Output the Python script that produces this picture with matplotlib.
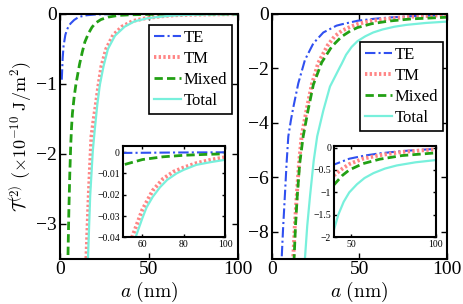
import matplotlib
matplotlib.use('Agg')
import matplotlib.pyplot as plt

plt.rcParams['font.family'] = ['Liberation Serif', 'DejaVu Serif']
plt.rcParams['mathtext.fontset'] = 'cm'
plt.rcParams['axes.unicode_minus'] = True

# ---- left panel ----
te_L_a = [1, 1.5, 2, 3, 4, 5, 6, 8, 10, 12, 15, 20, 30, 50, 75, 100]
te_L = [-0.94, -0.63, -0.46, -0.3, -0.22, -0.17, -0.135, -0.085, -0.052, -0.034,
        -0.018, -0.007, -0.002, -0.0004, -0.0002, -0.0001]

tm_L_a = [14, 14.9, 16.2, 17.7, 19, 20, 21.5, 23.3, 26, 30, 35, 41, 48, 55, 60,
          65, 70, 75, 80, 86, 93, 100]
tm_L = [-4.3, -3.47, -2.59, -1.75, -1.5, -1.33, -1.05, -0.75, -0.5, -0.3, -0.18,
        -0.1, -0.062, -0.04, -0.027, -0.018, -0.0125, -0.0092, -0.0072, -0.0052,
        -0.0036, -0.0024]

mx_L_a = [4, 4.5, 5, 5.5, 6, 6.5, 7, 8, 9, 10, 11, 12.5, 14, 16, 18, 20, 23, 27,
          33, 40, 50, 60, 70, 80, 90, 100]
mx_L = [-4.2, -3.45, -2.8, -2.3, -1.9, -1.62, -1.42, -1.18, -1.0, -0.86, -0.72,
        -0.55, -0.4, -0.28, -0.19, -0.13, -0.08, -0.045, -0.02, -0.011, -0.0062,
        -0.0035, -0.0022, -0.0015, -0.0011, -0.0008]

tot_L_a = [15, 15.8, 17, 18.5, 19.6, 21, 22.4, 24.5, 27, 31, 36.5, 42, 49, 53,
           56.5, 60, 62, 65, 68.5, 72, 76.5, 80, 86, 93, 100]
tot_L = [-4.3, -3.47, -2.6, -1.95, -1.65, -1.3, -1.02, -0.75, -0.5, -0.31, -0.18,
         -0.105, -0.063, -0.049, -0.0406, -0.031, -0.026, -0.021, -0.0165, -0.013,
         -0.010, -0.0083, -0.006, -0.0047, -0.0036]

# ---- right panel ----
te_R_a = [5.3, 5.7, 6.5, 7.6, 8.5, 9.5, 11, 12.3, 15.2, 19, 23.8, 29.5, 37, 40,
          49, 58, 67, 80, 100]
te_R = [-9.6, -9.0, -7.9, -6.6, -5.5, -4.5, -3.9, -3.45, -2.55, -1.69, -1.08,
        -0.68, -0.43, -0.38, -0.25, -0.18, -0.13, -0.08, -0.03]

tm_R_a = [12, 12.3, 13.2, 14.3, 15.6, 17.1, 20, 22.9, 26.6, 32, 36, 40, 45, 49,
          57, 67, 80, 100]
tm_R = [-9.6, -9.0, -7.8, -6.7, -5.5, -4.5, -3.5, -2.6, -1.8, -1.15, -0.82,
        -0.62, -0.47, -0.37, -0.25, -0.17, -0.1, -0.04]

mx_R_a = [12.5, 12.8, 13.6, 14.6, 16, 18, 20.9, 23.8, 28.6, 34.3, 40, 45, 49,
          57, 67, 80, 100]
mx_R = [-9.6, -9.0, -7.8, -6.7, -5.5, -4.5, -3.5, -2.6, -1.78, -1.2, -0.83,
        -0.62, -0.5, -0.36, -0.26, -0.18, -0.12]

tot_R_a = [18.5, 19, 20.3, 21.9, 24, 26, 29.5, 33.3, 39, 40, 42.5, 45.7, 49,
           53.5, 58, 63.3, 70, 77, 88, 100]
tot_R = [-9.6, -9.0, -7.8, -6.7, -5.4, -4.5, -3.55, -2.67, -1.95, -1.83, -1.5,
         -1.21, -1.0, -0.82, -0.68, -0.57, -0.47, -0.40, -0.33, -0.28]

labels = ['TE', 'TM', 'Mixed', 'Total']
colors = ['#3050f0', '#ff8585', '#22a014', '#78f0dc']
styles = [dict(ls=(0, (5, 1.5, 1, 1.5)), lw=1.5),
          dict(ls=(0, (0.6, 0.6)), lw=2.8),
          dict(ls=(0, (3, 1.5)), lw=2.0),
          dict(ls='-', lw=1.6)]


def draw(ax, curves):
    for (a, t), lab, c, st in zip(curves, labels, colors, styles):
        ax.plot(a, t, color=c, label=lab, **st)


def style(ax, size, tlen):
    ax.tick_params(direction='in', top=True, right=True, length=tlen,
                   width=1.0, labelsize=size, pad=2)
    for s in ax.spines.values():
        s.set_linewidth(1.5)


fig = plt.figure(figsize=(4.63, 3.04), dpi=100)

curves_L = [(te_L_a, te_L), (tm_L_a, tm_L), (mx_L_a, mx_L), (tot_L_a, tot_L)]
curves_R = [(te_R_a, te_R), (tm_R_a, tm_R), (mx_R_a, mx_R), (tot_R_a, tot_R)]

# main axes
ax1 = fig.add_axes([0.1296, 0.149, 0.3834, 0.805])
draw(ax1, curves_L)
ax1.set_xlim(0, 100)
ax1.set_ylim(-3.5, 0)
ax1.set_xticks([0, 50, 100])
ax1.set_yticks([0, -1, -2, -3])
style(ax1, 14, 4)
ax1.set_xlabel(r'$a\ (\mathrm{nm})$', fontsize=14, labelpad=1)
ax1.set_ylabel(r'$\mathcal{T}^{(2)}\ (\times 10^{-10}\ \mathrm{J/m^2})$',
               fontsize=13, labelpad=2)
ax1.legend(loc='upper right', bbox_to_anchor=(0.971, 0.955), borderaxespad=0,
           fontsize=12, fancybox=False, edgecolor='black', framealpha=1,
           handlelength=1.6, handletextpad=0.2, labelspacing=0.3,
           borderpad=0.3).get_frame().set_linewidth(1.2)

ax2 = fig.add_axes([0.5868, 0.149, 0.378, 0.805])
draw(ax2, curves_R)
ax2.set_xlim(0, 100)
ax2.set_ylim(-9, 0)
ax2.set_xticks([0, 50, 100])
ax2.set_yticks([0, -2, -4, -6, -8])
style(ax2, 14, 4)
ax2.set_xlabel(r'$a\ (\mathrm{nm})$', fontsize=14, labelpad=1)
ax2.legend(loc='upper right', bbox_to_anchor=(0.981, 0.887), borderaxespad=0,
           fontsize=12, fancybox=False, edgecolor='black', framealpha=1,
           handlelength=1.6, handletextpad=0.2, labelspacing=0.3,
           borderpad=0.3).get_frame().set_linewidth(1.2)

# insets
in1 = fig.add_axes([0.265, 0.2194, 0.2216, 0.3013])
draw(in1, curves_L)
in1.set_xlim(50.5, 100)
in1.set_ylim(-0.04, 0.003)
in1.set_xticks([60, 80, 100])
in1.set_yticks([0, -0.01, -0.02, -0.03, -0.04])
in1.set_yticklabels(['0', '\u22120.01', '\u22120.02', '\u22120.03', '\u22120.04'])
style(in1, 7, 2)

in2 = fig.add_axes([0.7214, 0.2194, 0.2197, 0.3013])
draw(in2, curves_R)
in2.set_xlim(40, 100)
in2.set_ylim(-2, 0.04)
in2.set_xticks([50, 100])
in2.set_yticks([0, -0.5, -1, -1.5, -2])
in2.set_yticklabels(['0', '\u22120.5', '\u22121', '\u22121.5', '\u22122'])
style(in2, 7, 2)

plt.savefig('out.png', dpi=100)
